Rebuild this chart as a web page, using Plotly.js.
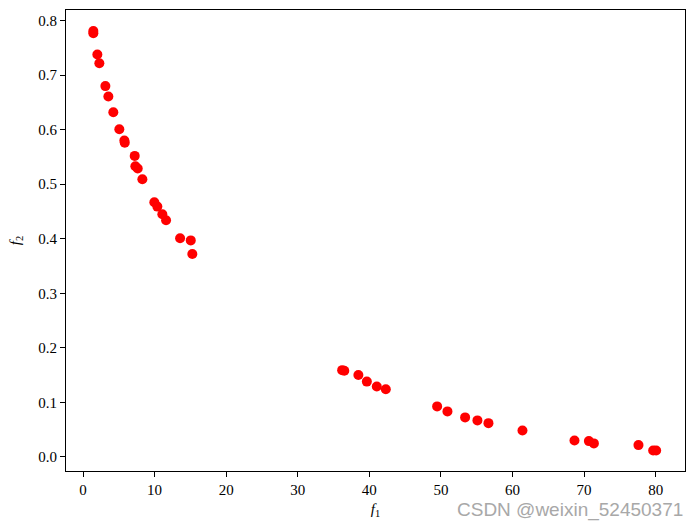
<!DOCTYPE html>
<html>
<head>
<meta charset="utf-8">
<script src="https://cdn.plot.ly/plotly-3.0.1.min.js"></script>
<style>html,body{margin:0;padding:0;background:#fff;}#chart{width:694px;height:528px;}</style>
</head>
<body>
<div id="chart"></div>
<script>
const f1 = [1.44, 1.44, 2.00, 2.28, 3.12, 3.54, 4.23, 5.07, 5.77, 5.83, 7.22, 7.31, 7.64, 8.29,
            9.96, 10.38, 11.08, 11.60, 13.56, 15.05, 15.27,
            36.2, 36.5, 38.47, 39.65, 41.04, 42.30, 49.47, 50.91, 53.38, 55.10, 56.64,
            61.39, 68.66, 70.67, 71.37, 77.60, 79.65, 80.07];
const f2 = [0.781, 0.777, 0.738, 0.722, 0.680, 0.661, 0.632, 0.601, 0.580, 0.576, 0.552, 0.533, 0.529, 0.509,
            0.467, 0.459, 0.445, 0.434, 0.401, 0.397, 0.372,
            0.159, 0.158, 0.150, 0.138, 0.129, 0.124, 0.0925, 0.0833, 0.0723, 0.0668, 0.0618,
            0.0484, 0.0301, 0.0288, 0.0246, 0.0215, 0.0117, 0.0117];
const xTitle = "<i>f</i><sub>1</sub>";
const yTitle = "<i>f</i><sub>2</sub>";
const watermark = "CSDN @weixin_52450371";

const tickFont = {family: "Liberation Serif, serif", size: 15, color: "#000"};

Plotly.newPlot("chart", [{
  x: f1, y: f2, type: "scatter", mode: "markers",
  marker: {color: "#ff0000", size: 10},
  hoverinfo: "skip"
}], {
  width: 694, height: 528,
  margin: {l: 66, r: 9, t: 10, b: 57},
  paper_bgcolor: "#fff", plot_bgcolor: "#fff",
  showlegend: false,
  xaxis: {
    range: [-2.38, 84.1], tick0: 0, dtick: 10,
    showgrid: false, zeroline: false,
    showline: true, linecolor: "#000", linewidth: 1, mirror: true,
    ticks: "outside", ticklen: 5, tickcolor: "#000", tickwidth: 1,
    tickfont: tickFont,
    title: {text: xTitle, font: {family: "Liberation Serif, serif", size: 15, color: "#000"}, standoff: 6}
  },
  yaxis: {
    range: [-0.026, 0.8196], tick0: 0, dtick: 0.1, tickformat: ".1f",
    showgrid: false, zeroline: false,
    showline: true, linecolor: "#000", linewidth: 1, mirror: true,
    ticks: "outside", ticklen: 5, tickcolor: "#000", tickwidth: 1,
    tickfont: tickFont,
    title: {text: yTitle, font: {family: "Liberation Serif, serif", size: 15, color: "#000"}, standoff: 14}
  },
  annotations: [{
    text: watermark, xref: "paper", yref: "paper", x: 1.0, y: -0.085,
    xanchor: "right", yanchor: "middle", showarrow: false,
    font: {family: "Liberation Sans, sans-serif", size: 19, color: "#a8a8a8"}
  }]
}, {displayModeBar: false, staticPlot: true});
</script>
</body>
</html>
